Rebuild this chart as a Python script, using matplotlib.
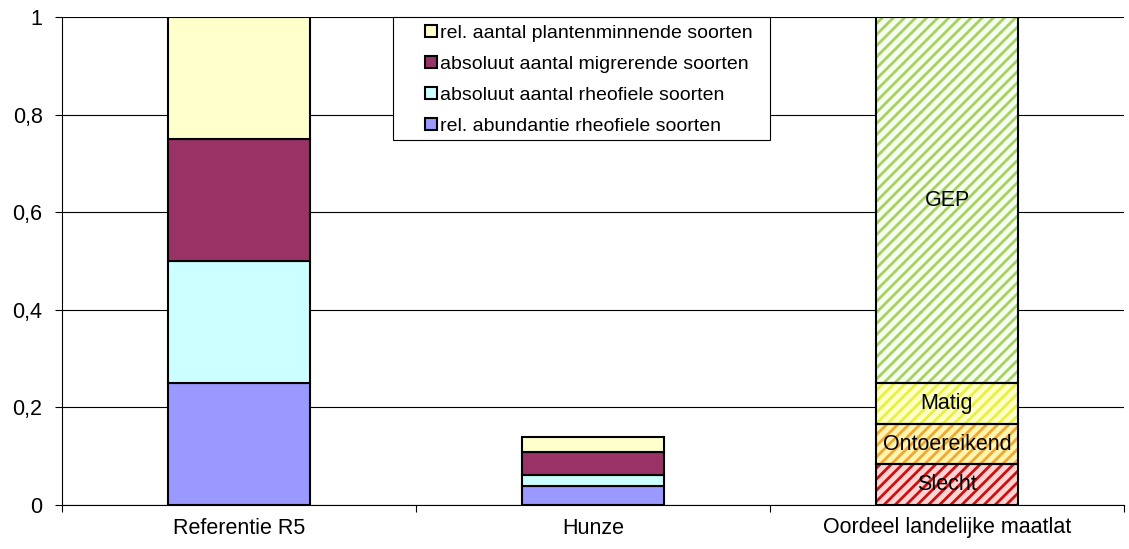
import matplotlib
matplotlib.use("Agg")
import matplotlib.pyplot as plt
from matplotlib.patches import Rectangle
from matplotlib.ticker import FixedLocator, FuncFormatter, NullFormatter

plt.rcParams['font.family'] = ['Liberation Sans', 'DejaVu Sans']
plt.rcParams['hatch.linewidth'] = 2.0

categories = ["Referentie R5", "Hunze", "Oordeel landelijke maatlat"]

# stacked metric series (bottom to top) for the first two columns
series_names = [
    "rel. abundantie rheofiele soorten",
    "absoluut aantal rheofiele soorten",
    "absoluut aantal migrerende soorten",
    "rel. aantal plantenminnende soorten",
]
series_colors = ["#9999FF", "#CCFFFF", "#993366", "#FFFFCC"]
referentie_values = [0.25, 0.25, 0.25, 0.25]
hunze_values = [0.039, 0.022, 0.048, 0.030]

# assessment classes of the national scale (bottom to top)
class_names = ["Slecht", "Ontoereikend", "Matig", "GEP"]
class_values = [0.083, 0.083, 0.084, 0.75]
class_hatch_colors = ["#CC1010", "#F0A830", "#E8F040", "#A8D060"]
class_face_colors = ["#FFD4D4", "#FFF4B0", "#FFFFC8", "#F4FFF0"]

yticks = [0, 0.2, 0.4, 0.6, 0.8, 1.0]

fig = plt.figure(figsize=(11.29, 5.49), dpi=100)
ax = fig.add_axes([62 / 1129, 44 / 549, 1062 / 1129, 488 / 549])

width = 0.4
handles = []
bottom_r = 0.0
bottom_h = 0.0
for name, col, vr, vh in zip(series_names, series_colors, referentie_values, hunze_values):
    b = ax.bar(0, vr, width, bottom=bottom_r, color=col, edgecolor="black",
               linewidth=1.5, label=name, zorder=3)
    ax.bar(1, vh, width, bottom=bottom_h, color=col, edgecolor="black",
           linewidth=1.5, zorder=3)
    bottom_r += vr
    bottom_h += vh
    handles.append(b)

bottom_c = 0.0
for name, hc, fc, v in zip(class_names, class_hatch_colors, class_face_colors, class_values):
    ax.bar(2, v, width, bottom=bottom_c, color=fc, edgecolor=hc, hatch="///",
           linewidth=0, zorder=3)
    ax.bar(2, v, width, bottom=bottom_c, fill=False, edgecolor="black",
           linewidth=1.5, zorder=4)
    ax.text(2, bottom_c + v / 2, name, ha="center", va="center",
            fontsize=15.5, zorder=5)
    bottom_c += v

ax.set_xlim(-0.5, 2.5)
ax.set_ylim(0, 1)

ax.yaxis.set_major_locator(FixedLocator(yticks))
ax.yaxis.set_major_formatter(FuncFormatter(
    lambda v, p: "0" if v == 0 else ("1" if v == 1 else f"{v:.1f}".replace(".", ","))))
ax.grid(axis="y", color="black", linewidth=0.8, zorder=0)

ax.xaxis.set_major_locator(FixedLocator([-0.5, 0.5, 1.5, 2.5]))
ax.xaxis.set_major_formatter(NullFormatter())
ax.xaxis.set_minor_locator(FixedLocator([0, 1, 2]))
ax.set_xticklabels(categories, minor=True)
ax.tick_params(axis="x", which="minor", length=0, labelsize=15.5, pad=9)
ax.tick_params(axis="x", which="major", length=5, width=0.8, direction="out")
ax.tick_params(axis="y", length=5, width=0.8, direction="out", labelsize=15.5, pad=9)

for s in ["top", "right"]:
    ax.spines[s].set_visible(False)
ax.spines["left"].set_linewidth(0.8)
ax.spines["bottom"].set_linewidth(0.8)

# legend frame, drawn separately to get the wide left margin
x0 = 331 / 1062
x1 = 708 / 1062
y0 = 365 / 488
ax.add_patch(Rectangle((x0, y0), x1 - x0, 1 - y0, transform=ax.transAxes,
                       facecolor="white", edgecolor="black", linewidth=0.8,
                       zorder=6, clip_on=False))
leg = ax.legend(handles[::-1], series_names[::-1], loc="upper left",
                bbox_to_anchor=(363 / 1062, 1.0 - 8 / 488), frameon=False,
                fontsize=14, handlelength=0.6, handleheight=0.6,
                handletextpad=0.15, borderpad=0.0, labelspacing=0.72,
                borderaxespad=0)
leg.set_zorder(7)

fig.savefig("out.png", dpi=100)
